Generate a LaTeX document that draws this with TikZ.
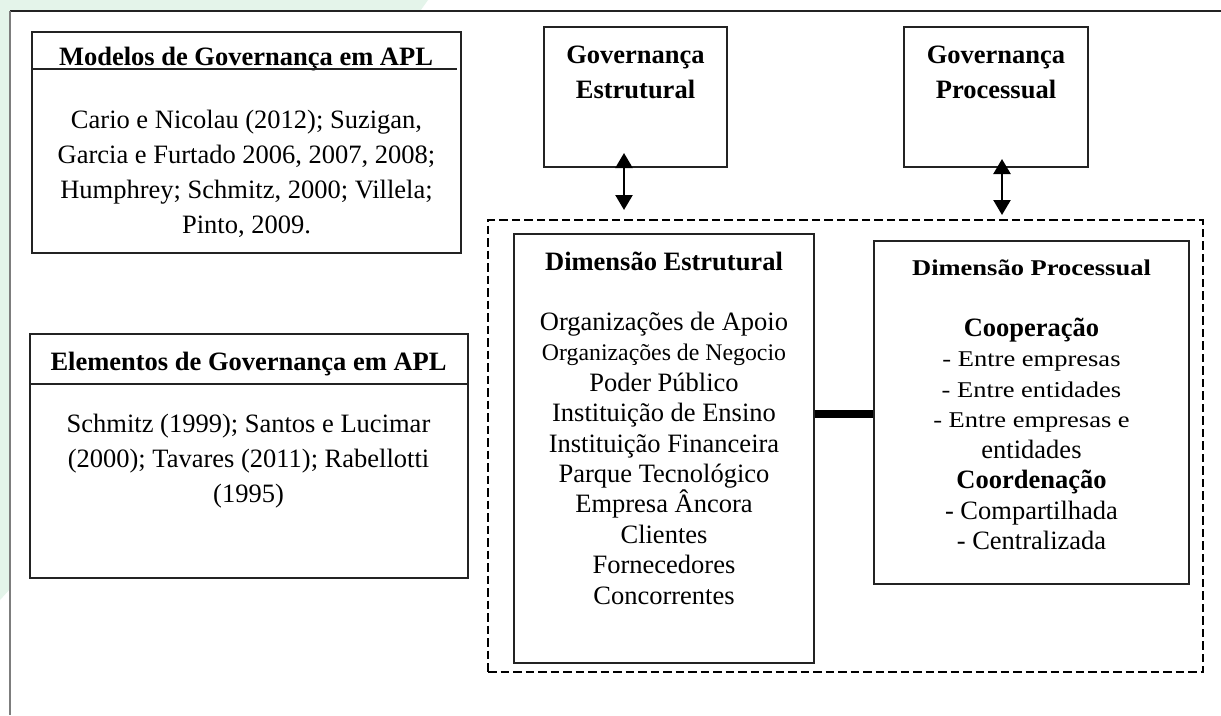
\documentclass[tikz,border=0pt]{standalone}
\usepackage{fontspec}
\setmainfont{Liberation Serif}
\usepackage{graphicx}
\usetikzlibrary{arrows.meta}
\definecolor{bggreen}{RGB}{228,244,234}
\definecolor{framegray}{RGB}{125,125,125}
\definecolor{boxline}{RGB}{35,35,35}
\newcommand{\sqz}[1]{\scalebox{1}[0.85]{#1}}
\begin{document}
\begin{tikzpicture}[x=1pt,y=-1pt,
  box/.style={draw=boxline,line width=1.2pt,inner sep=0pt,fill=white},
  txt/.style={anchor=base,inner sep=0pt,font=\fontsize{26.5}{30}\selectfont},
  btxt/.style={anchor=base,inner sep=0pt,font=\fontsize{26.5}{30}\selectfont\bfseries},
  stxt/.style={anchor=base,inner sep=0pt,font=\fontsize{23.8}{28}\selectfont},
  dblarrow/.style={{Triangle[width=17pt,length=15pt]}-{Triangle[width=17pt,length=15pt]},line width=2.4pt},
  dashbox/.style={draw=black,line width=2.6pt,dash pattern=on 8.5pt off 4pt,inner sep=0pt},
  bar/.style={line width=7.5pt}]
\useasboundingbox (0,0) rectangle (1221,715);
% background
\fill[white] (0,0) rectangle (1221,715);
\fill[bggreen] (0,0) -- (428,0) .. controls (250,250) and (120,470) .. (0,600) -- cycle;
\fill[white] (10,11) rectangle (1221,715);
\draw[boxline,line width=1.4pt] (10,11) -- (1221,11);
\draw[framegray,line width=2pt] (10,11) -- (10,715);

% Modelos box
\node[box,minimum width=429pt,minimum height=221pt] (modelos) at (246.5,142.5) {};
\node[btxt] (modT) at (246,65) {Modelos de Governança em APL};
\coordinate (modU) at (0,69);
\draw[boxline,line width=1.2pt] ([xshift=2pt]modelos.west |- modU) -- ([xshift=-5pt]modelos.east |- modU);
\foreach \t [count=\i] in {{Cario e Nicolau (2012); Suzigan,},{Garcia e Furtado 2006, 2007, 2008;},{Humphrey; Schmitz, 2000; Villela;},{Pinto, 2009.}}
  \node[txt] (mod\i) at (246.5,{128+35*(\i-1)}) {\t};

% Elementos box
\node[box,minimum width=438pt,minimum height=244pt] (elem) at (249,456) {};
\node[btxt] (elemT) at (248.5,370) {Elementos de Governança em APL};
\coordinate (elemU) at (0,384);
\draw[boxline,line width=1.2pt] (elem.west |- elemU) -- (elem.east |- elemU);
\foreach \t [count=\i] in {{Schmitz (1999); Santos e Lucimar},{(2000); Tavares (2011); Rabellotti},{(1995)}}
  \node[txt] (el\i) at (248.5,{432+35*(\i-1)}) {\t};

% Governança boxes
\node[box,minimum width=183pt,minimum height=140pt] (govE) at (635.5,97) {};
\node[btxt] (govE1) at (635.5,63) {Governança};
\node[btxt] (govE2) at (635.5,98) {Estrutural};
\node[box,minimum width=184pt,minimum height=140pt] (govP) at (996,97) {};
\node[btxt] (govP1) at (996,63) {Governança};
\node[btxt] (govP2) at (996,98) {Processual};

% dashed frame
\node[dashbox,minimum width=715pt,minimum height=452pt] (dim) at (845.5,446) {};

% Dimensão Estrutural
\node[box,minimum width=300pt,minimum height=429pt] (dimE) at (664,448.5) {};
\node[btxt] (dimET) at (664,270) {Dimensão Estrutural};
\foreach \t/\s [count=\i] in {{Organizações de Apoio}/txt,{Organizações de Negocio}/stxt,{Poder Público}/txt,{Instituição de Ensino}/txt,{Instituição Financeira}/txt,{Parque Tecnológico}/txt,{Empresa Âncora}/txt,{Clientes}/txt,{Fornecedores}/txt,{Concorrentes}/txt}
  \node[\s] (de\i) at (664,{330.5+30.4*(\i-1)}) {\t};

% Dimensão Processual
\node[box,minimum width=315pt,minimum height=343pt] (dimP) at (1031.5,412.5) {};
\node[btxt] (dimPT) at (1031.5,275) {\sqz{Dimensão Processual}};
\node[btxt] (dp1) at (1031.5,336) {Cooperação};
\node[txt] (dp2) at (1031.5,366.5) {\sqz{- Entre empresas}};
\node[txt] (dp3) at (1031.5,397) {\sqz{- Entre entidades}};
\node[txt] (dp4) at (1031.5,427.5) {\sqz{- Entre empresas e}};
\node[txt] (dp5) at (1031.5,458) {entidades};
\node[btxt] (dp6) at (1031.5,488.5) {Coordenação};
\node[txt] (dp7) at (1031.5,519) {- Compartilhada};
\node[txt] (dp8) at (1031.5,549.5) {- Centralizada};

% connectors
\coordinate (aE1) at (624,153);
\coordinate (aE2) at (624,210);
\draw[dblarrow] (aE1) -- (aE2);
\coordinate (aP1) at (1002,159);
\coordinate (aP2) at (1002,215);
\draw[dblarrow] (aP1) -- (aP2);
\coordinate (barY) at (0,414);
\draw[bar] (dimE.east |- barY) -- (dimP.west |- barY);
\end{tikzpicture}
\end{document}
